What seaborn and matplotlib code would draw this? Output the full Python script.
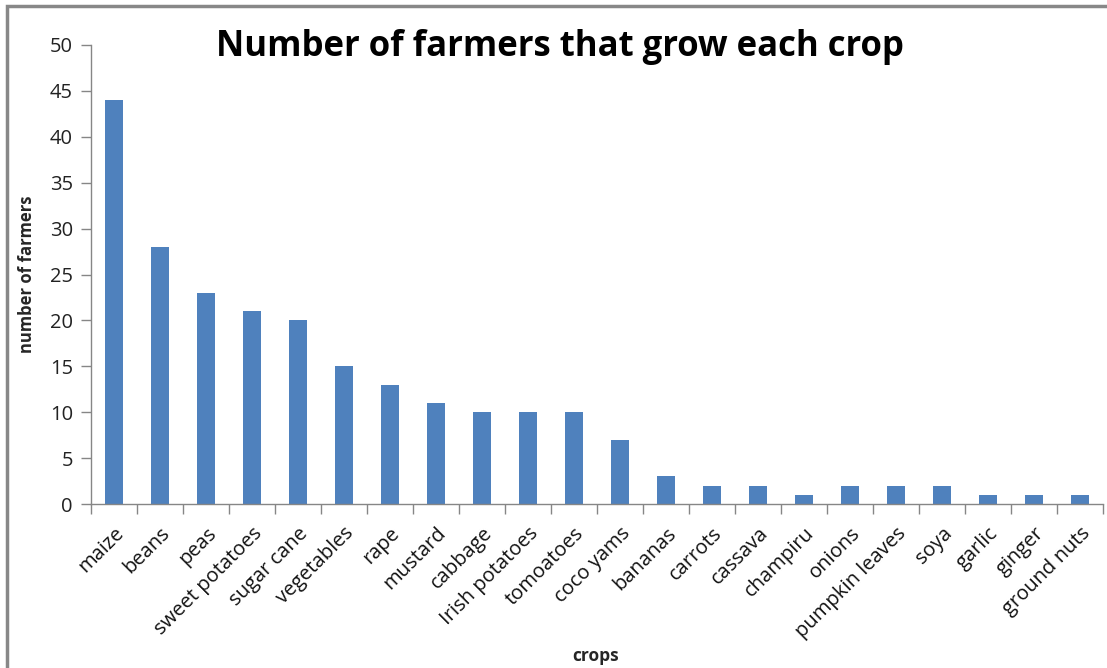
import matplotlib
matplotlib.use("Agg")
import matplotlib.pyplot as plt
import seaborn as sns
import pandas as pd
import numpy as np
from matplotlib.patches import Rectangle

crops = ["maize", "beans", "peas", "sweet potatoes", "sugar cane", "vegetables", "rape",
         "mustard", "cabbage", "Irish potatoes", "tomoatoes", "coco yams", "bananas",
         "carrots", "cassava", "champiru", "onions", "pumpkin leaves", "soya", "garlic",
         "ginger", "ground nuts"]
farmers = [44, 28, 23, 21, 20, 15, 13, 11, 10, 10, 10, 7, 3, 2, 2, 1, 2, 2, 2, 1, 1, 1]
yticks = [0, 5, 10, 15, 20, 25, 30, 35, 40, 45, 50]

sns.set_theme(style="white")
plt.rcParams['font.family'] = ['Open Sans', 'DejaVu Sans']

df = pd.DataFrame({"crop": crops, "farmers": farmers})

fig = plt.figure(figsize=(11.07, 6.68), dpi=100)
ax = fig.add_axes([91/1107, (668-504)/668, (1103-91)/1107, (504-45)/668])

sns.barplot(data=df, x="crop", y="farmers", color="#4F81BD", width=0.4,
            saturation=1, ax=ax, edgecolor="none")

ax.set_ylim(0, 50)
ax.set_xlim(-0.5, len(crops) - 0.5)
ax.set_yticks(yticks)
ax.set_yticklabels([str(t) for t in yticks], fontsize=14.5, color="#222222")

ax.set_xticks(range(len(crops)))
ax.set_xticklabels(crops, rotation=45, ha="right", va="top", rotation_mode="anchor",
                   fontsize=14.5, color="#111111")
ax.set_xticks(np.arange(-0.5, len(crops) + 0.5, 1), minor=True)
ax.tick_params(axis="x", which="major", length=0, pad=14)
ax.tick_params(axis="x", which="minor", length=7, width=1, color="#868686", bottom=True, direction="out")
ax.tick_params(axis="y", which="major", length=7, width=1, color="#868686", left=True, direction="out", pad=6)

for s in ["top", "right"]:
    ax.spines[s].set_visible(False)
for s in ["left", "bottom"]:
    ax.spines[s].set_color("#868686")
    ax.spines[s].set_linewidth(1)

ax.set_xlabel("crops", fontsize=12.5, fontweight="bold", labelpad=0)
ax.xaxis.label.set_va("center")
ax.xaxis.set_label_coords((596-91)/(1103-91), -(656-504)/(504-45))
ax.set_ylabel("number of farmers", fontsize=12, fontweight="bold")
ax.yaxis.set_label_coords(-(91-36)/(1103-91), 0.5)

fig.text(560/1107, 1 - 47/668, "Number of farmers that grow each crop", fontsize=25,
         fontweight="bold", ha="center", va="center", color="black")

fig.patches.append(Rectangle((7/1107, -0.1), 1.2, 1 - 6/668 + 0.1, transform=fig.transFigure,
                             fill=False, edgecolor="#888888", linewidth=2.5, zorder=10))

fig.savefig("out.png", dpi=100)
